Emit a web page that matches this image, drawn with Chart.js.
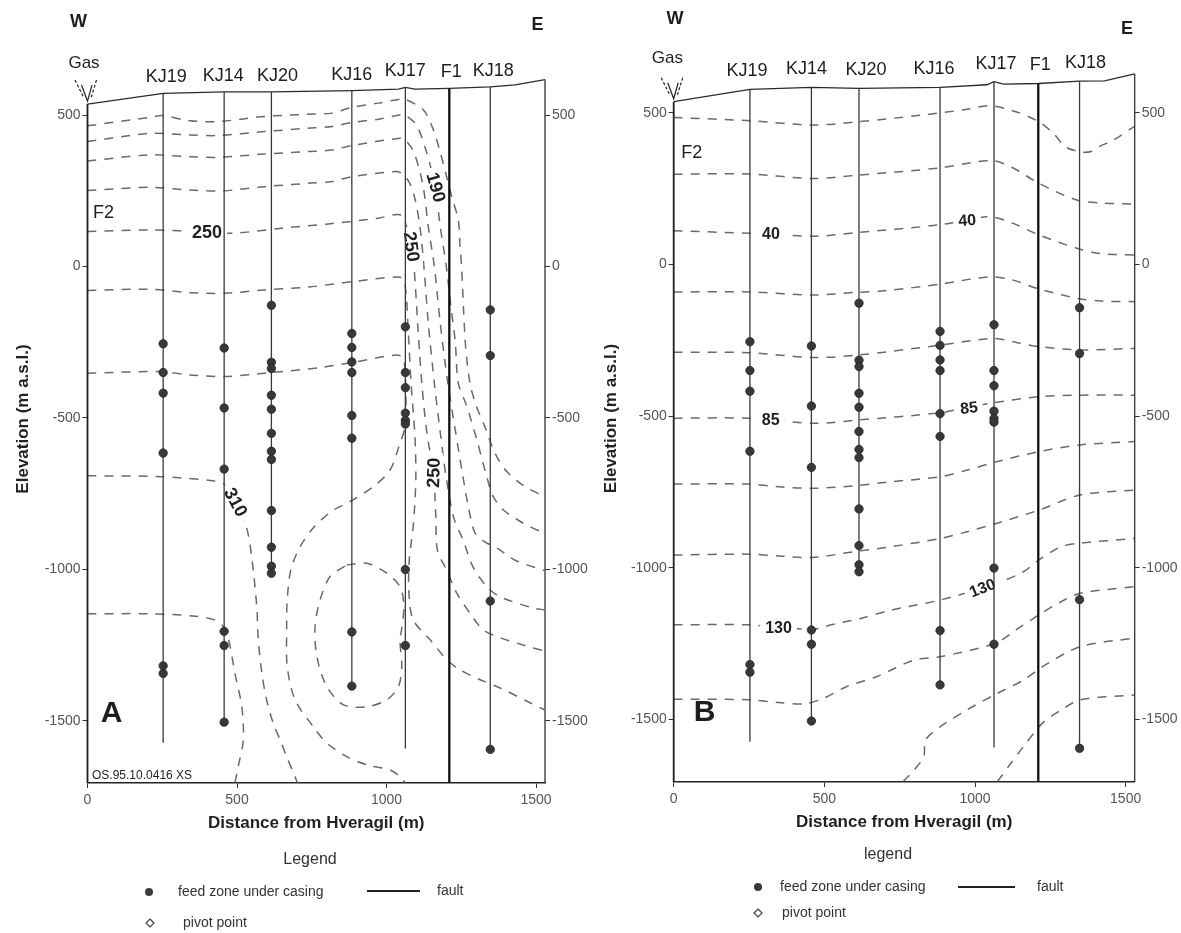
<!DOCTYPE html>
<html>
<head>
<meta charset="utf-8">
<title>Hveragil W-E sections</title>
<script src="https://cdn.jsdelivr.net/npm/chart.js@4.4.1/dist/chart.umd.min.js"></script>
<style>
  html, body { margin: 0; padding: 0; background: #fff; }
  #wrap { position: relative; width: 1181px; height: 933px; }
  canvas { position: absolute; top: 0; }
  #panelA { left: 0; }
  #panelB { left: 590px; }
</style>
</head>
<body>
<div id="wrap">
  <canvas id="panelA" width="590" height="933"></canvas>
  <canvas id="panelB" width="591" height="933"></canvas>
</div>
<script>
// wells along the profile: distance from Hveragil (m), elevation (m a.s.l.)
const wellNames = ['KJ19', 'KJ14', 'KJ20', 'KJ16', 'KJ17', 'KJ18'];
const wellDist = [253, 457, 615, 884, 1063, 1347];
const wellBottom = [-1573, -1505, -1014, -1386, -1592, -1595];
const wellTopA = [572, 577, 577, 581, 592, 594];
const wellTopB = [577, 583, 580, 583, 602, 604];

// feed zones under casing, per well
const feedKJ19 = [-255, -350, -418, -616, -1319, -1344];
const feedKJ14 = [-269, -467, -669, -1205, -1252, -1505];
const feedKJ20 = [-128, -316, -337, -425, -471, -551, -610, -637, -806, -927, -990, -1013];
const feedKJ16 = [-221, -267, -315, -350, -492, -567, -1207, -1386];
const feedKJ17 = [-199, -350, -400, -484, -508, -520, -1001, -1252];
const feedKJ18 = [-143, -294, -1105, -1595];
const feedZones = [feedKJ19, feedKJ14, feedKJ20, feedKJ16, feedKJ17, feedKJ18];

const faultName = 'F1';
const faultDist = 1210;
const faultTopA = 589;
const faultTopB = 596;

const groundDist = [0, 253, 457, 615, 884, 1040, 1063, 1095, 1210, 1347, 1430, 1530];
const groundElevA = [537, 572, 577, 577, 581, 586, 592, 586, 589, 594, 600, 618];
const groundElevB = [536, 577, 583, 580, 583, 592, 602, 594, 596, 604, 605, 628];

const distMax = 1530;
const xTicks = [0, 500, 1000, 1500];
const yTicks = [500, 0, -500, -1000, -1500];

// section A isolines, [distance, elevation]
const isoA1 = [[0,465],[209,493],[250,499],[340,482],[436,479],[591,496],[735,503],[818,507],[884,526],[973,540],[1045,553],[1062,553],[1123,518],[1157,451],[1179,380],[1201,297],[1218,231],[1240,154],[1246,66],[1251,0],[1258,-150],[1265,-270],[1279,-385],[1300,-460],[1329,-529],[1363,-617],[1402,-677],[1460,-725],[1528,-760]];
const isoA2 = [[0,413],[209,440],[340,435],[436,433],[591,446],[735,457],[818,463],[884,476],[973,487],[1045,501],[1062,500],[1100,468],[1130,390],[1150,320],[1165,250],[1180,130],[1200,0],[1215,-130],[1230,-250],[1240,-385],[1268,-460],[1302,-572],[1335,-694],[1357,-760],[1391,-804],[1458,-848],[1528,-881]];
const isoA3 = [[0,349],[209,369],[340,363],[436,361],[591,372],[735,380],[818,385],[884,400],[1045,424],[1060,420],[1088,385],[1110,320],[1125,250],[1140,130],[1160,0],[1180,-190],[1205,-385],[1230,-540],[1255,-690],[1275,-800],[1296,-880],[1330,-910],[1370,-930],[1430,-970],[1528,-1004]];
const isoA4 = [[0,251],[209,262],[340,253],[448,250],[591,264],[735,275],[818,281],[884,297],[1033,314],[1055,305],[1078,275],[1096,220],[1112,130],[1125,0],[1140,-190],[1160,-385],[1180,-550],[1200,-700],[1225,-830],[1256,-903],[1289,-992],[1336,-1058],[1380,-1091],[1490,-1128],[1528,-1134]];
const isoA5 = [[0,116],[209,121],[400,115],[484,110],[651,127],[806,141],[973,160],[1045,171],[1068,130],[1084,66],[1092,0],[1105,-200],[1118,-385],[1135,-550],[1157,-681],[1165,-830],[1170,-936],[1201,-1003],[1235,-1079],[1279,-1145],[1323,-1200],[1380,-1226],[1490,-1260],[1528,-1270]];
const isoA6 = [[0,-79],[209,-75],[340,-86],[460,-88],[591,-77],[735,-68],[884,-50],[1045,-35],[1062,-60],[1072,-200],[1082,-385],[1095,-560],[1098,-700],[1090,-850],[1076,-970],[1075,-1080],[1089,-1167],[1146,-1233],[1202,-1299],[1246,-1332],[1313,-1365],[1380,-1392],[1480,-1441],[1528,-1464]];
const isoA7 = [[0,-352],[245,-347],[340,-358],[460,-363],[615,-350],[782,-333],[884,-317],[1033,-292],[1056,-303],[1064,-385],[1062,-529],[1045,-583],[1012,-672],[956,-727],[878,-776],[820,-806],[759,-859],[711,-925],[680,-1002],[668,-1100],[666,-1200],[668,-1321],[694,-1431],[755,-1520],[800,-1574],[867,-1619],[934,-1646],[1012,-1663],[1045,-1685],[1063,-1706]];
const isoA8 = [[0,-691],[245,-694],[424,-708],[454,-716],[490,-771],[531,-859],[549,-958],[566,-1123],[571,-1233],[583,-1343],[599,-1431],[621,-1508],[644,-1563],[666,-1619],[694,-1685],[702,-1706]];
const isoA9 = [[0,-1147],[209,-1147],[352,-1154],[424,-1167],[454,-1189],[472,-1233],[493,-1343],[516,-1454],[521,-1564],[504,-1652],[493,-1706]];
const isoA10 = [[867,-986],[934,-980],[1001,-1013],[1045,-1057],[1058,-1120],[1051,-1195],[1045,-1233],[1051,-1321],[1040,-1387],[1001,-1431],[934,-1454],[856,-1448],[800,-1387],[767,-1288],[761,-1189],[778,-1101],[811,-1024],[867,-986]];

const isoTextA = ['250', '190', '250', '250', '310'];
const isoAtA = [[400,114],[1166,262],[1084,66],[1157,-681],[496,-778]];
const isoTiltA = [0, 74, 82, -88, 62];

// section B isolines
const isoB1 = [[0,484],[260,473],[461,459],[611,470],[824,492],[974,511],[1049,523],[1136,503],[1212,470],[1260,432],[1299,388],[1349,371],[1382,371],[1412,388],[1460,410],[1528,454]];
const isoB2 = [[0,297],[248,298],[461,283],[611,294],[885,318],[1055,342],[1130,316],[1210,268],[1338,212],[1420,202],[1528,199]];
const isoB3 = [[0,111],[260,102],[473,93],[611,105],[880,130],[974,146],[1051,157],[1127,135],[1210,98],[1338,53],[1420,35],[1528,31]];
const isoB4 = [[0,-91],[248,-91],[461,-101],[611,-92],[700,-87],[885,-65],[1051,-41],[1127,-52],[1205,-79],[1338,-112],[1420,-121],[1528,-123]];
const isoB5 = [[0,-290],[248,-291],[461,-307],[611,-299],[886,-266],[1061,-244],[1140,-258],[1212,-271],[1349,-282],[1528,-277]];
const isoB6 = [[0,-507],[248,-507],[473,-524],[611,-513],[886,-489],[974,-471],[1049,-458],[1212,-436],[1349,-431],[1528,-431]];
const isoB7 = [[0,-724],[248,-724],[348,-733],[461,-738],[611,-729],[724,-716],[886,-700],[974,-678],[1074,-650],[1212,-617],[1349,-595],[1528,-584]];
const isoB8 = [[0,-958],[248,-955],[348,-961],[461,-966],[598,-947],[724,-930],[886,-903],[974,-881],[1074,-853],[1212,-810],[1349,-760],[1528,-744]];
const isoB9 = [[0,-1188],[248,-1188],[461,-1203],[523,-1188],[623,-1166],[724,-1139],[886,-1106],[1024,-1067],[1074,-1051],[1161,-1013],[1212,-974],[1287,-930],[1349,-919],[1528,-903]];
const isoB10 = [[0,-1433],[248,-1435],[348,-1444],[436,-1448],[498,-1430],[573,-1392],[673,-1359],[798,-1304],[886,-1293],[1068,-1249],[1136,-1205],[1212,-1155],[1287,-1111],[1349,-1084],[1528,-1062]];
const isoB11 = [[761,-1705],[798,-1666],[830,-1622],[836,-1567],[886,-1523],[974,-1468],[1074,-1414],[1161,-1370],[1224,-1326],[1349,-1260],[1528,-1232]];
const isoB12 = [[1074,-1705],[1111,-1655],[1161,-1589],[1224,-1512],[1287,-1468],[1349,-1435],[1528,-1419]];

const isoTextB = ['40', '40', '85', '85', '130', '130'];
const isoAtB = [[323,100],[974,146],[322,-511],[980,-472],[348,-1196],[1024,-1066]];
const isoTiltB = [0, -4, 0, -6, 0, -22];

const FONT = '"Liberation Sans", Arial, Helvetica, sans-serif';
Chart.defaults.font.family = FONT;
Chart.defaults.color = '#444';

const panelA = {
  letter: 'A', stamp: 'OS.95.10.0416 XS', legendTitle: 'Legend',
  ground: groundElevA, wellTop: wellTopA, faultTop: faultTopA,
  isos: [isoA1, isoA2, isoA3, isoA4, isoA5, isoA6, isoA7, isoA8, isoA9, isoA10],
  isoText: isoTextA, isoAt: isoAtA, isoTilt: isoTiltA, isoFont: 18,
  yMin: -1706, yMax: 699, leftW: 87.5, rightW: 45, padTop: 55, padBottom: 99, titlePad: 13,
  nameDx: [3, -1, 6, 0, 0, 3], nameLift: 16,
  wPos: [-9, 22], ePos: [-7.5, 25], gasPos: [-3.5, 63], f2Pos: [16, 213], letterPos: [24, 714],
  legend: { title: [310, 860], dot: [149, 892], feed: [178, 892], seg: [367, 420, 891], fault: [437, 891], diamond: [150, 923], pivot: [183, 923] }
};

const panelB = {
  letter: 'B', stamp: '', legendTitle: 'legend',
  ground: groundElevB, wellTop: wellTopB, faultTop: faultTopB,
  isos: [isoB1, isoB2, isoB3, isoB4, isoB5, isoB6, isoB7, isoB8, isoB9, isoB10, isoB11, isoB12],
  isoText: isoTextB, isoAt: isoAtB, isoTilt: isoTiltB, isoFont: 16,
  yMin: -1706, yMax: 690, leftW: 83.7, rightW: 46.3, padTop: 55, padBottom: 100, titlePad: 11.3,
  nameDx: [-3, -5, 7, -6, 2, 6], nameLift: 18,
  wPos: [1.3, 19], ePos: [-7.7, 29], gasPos: [-6.4, 58], f2Pos: [18, 153], letterPos: [31, 713],
  legend: { title: [298, 855], dot: [168, 887], feed: [190, 887], seg: [368, 425, 887], fault: [447, 887], diamond: [168, 913], pivot: [192, 913] }
};

function toPoints(list) {
  return list.map(p => ({ x: p[0], y: p[1] }));
}

function makeOverlay(p) {
  return {
    id: 'overlay' + p.letter,
    // isoline values, knocked out of the dashed lines, drawn under the wells
    afterDatasetDraw(chart, args) {
      if (!chart.data.datasets[args.index].labelLayer) return;
      const ctx = chart.ctx, xs = chart.scales.x, ys = chart.scales.y;
      ctx.save();
      ctx.font = 'bold ' + p.isoFont + 'px ' + FONT;
      ctx.textAlign = 'center';
      ctx.textBaseline = 'middle';
      p.isoText.forEach((t, i) => {
        const w = ctx.measureText(t).width;
        ctx.save();
        ctx.translate(xs.getPixelForValue(p.isoAt[i][0]), ys.getPixelForValue(p.isoAt[i][1]));
        ctx.rotate(p.isoTilt[i] * Math.PI / 180);
        ctx.fillStyle = '#fff';
        ctx.fillRect(-w / 2 - 5, -p.isoFont * 0.5, w + 10, p.isoFont);
        ctx.fillStyle = '#1e1e1e';
        ctx.fillText(t, 0, 1);
        ctx.restore();
      });
      ctx.restore();
    },
    afterDraw(chart) {
      const ctx = chart.ctx, xs = chart.scales.x, ys = chart.scales.y;
      const left = xs.getPixelForValue(0), right = xs.getPixelForValue(distMax);
      const gy = ys.getPixelForValue(p.ground[0]);
      ctx.save();
      ctx.fillStyle = '#1e1e1e';
      ctx.textAlign = 'center';
      ctx.textBaseline = 'middle';

      // well and fault names over the collars
      ctx.font = '18px ' + FONT;
      wellNames.forEach((n, i) => {
        ctx.fillText(n, xs.getPixelForValue(wellDist[i]) + p.nameDx[i], ys.getPixelForValue(p.wellTop[i]) - p.nameLift);
      });
      ctx.fillText(faultName, xs.getPixelForValue(faultDist) + 2, ys.getPixelForValue(p.faultTop) - p.nameLift);

      ctx.font = 'bold 18px ' + FONT;
      ctx.fillText('W', left + p.wPos[0], p.wPos[1]);
      ctx.fillText('E', right + p.ePos[0], p.ePos[1]);

      ctx.font = '17px ' + FONT;
      ctx.fillText('Gas', left + p.gasPos[0], p.gasPos[1]);

      // gas vent sign
      ctx.strokeStyle = '#222';
      ctx.lineWidth = 1.2;
      ctx.setLineDash([3, 2]);
      ctx.beginPath();
      ctx.moveTo(left - 12.5, gy - 24); ctx.lineTo(left - 3.5, gy - 6);
      ctx.moveTo(left + 9, gy - 24); ctx.lineTo(left + 3.5, gy - 6);
      ctx.stroke();
      ctx.setLineDash([]);
      ctx.beginPath();
      ctx.moveTo(left - 6, gy - 19); ctx.lineTo(left, gy - 3); ctx.lineTo(left + 4.5, gy - 19);
      ctx.stroke();

      ctx.font = '18px ' + FONT;
      ctx.fillText('F2', left + p.f2Pos[0], p.f2Pos[1]);

      ctx.font = 'bold 30px ' + FONT;
      ctx.fillText(p.letter, left + p.letterPos[0], p.letterPos[1]);

      if (p.stamp) {
        ctx.font = '12px ' + FONT;
        ctx.textAlign = 'left';
        ctx.fillText(p.stamp, left + 4.5, 776);
      }

      // legend
      const lg = p.legend;
      ctx.fillStyle = '#333';
      ctx.textAlign = 'center';
      ctx.font = '16px ' + FONT;
      ctx.fillText(p.legendTitle, lg.title[0], lg.title[1]);
      ctx.textAlign = 'left';
      ctx.font = '14px ' + FONT;
      ctx.fillText('feed zone under casing', lg.feed[0], lg.feed[1]);
      ctx.fillText('fault', lg.fault[0], lg.fault[1]);
      ctx.fillText('pivot point', lg.pivot[0], lg.pivot[1]);
      ctx.beginPath();
      ctx.arc(lg.dot[0], lg.dot[1], 4, 0, Math.PI * 2);
      ctx.fillStyle = '#3a3a3a';
      ctx.fill();
      ctx.strokeStyle = '#222';
      ctx.lineWidth = 2;
      ctx.beginPath();
      ctx.moveTo(lg.seg[0], lg.seg[2]); ctx.lineTo(lg.seg[1], lg.seg[2]);
      ctx.stroke();
      ctx.lineWidth = 1.2;
      ctx.strokeStyle = '#444';
      ctx.beginPath();
      ctx.moveTo(lg.diamond[0], lg.diamond[1] - 4);
      ctx.lineTo(lg.diamond[0] + 4, lg.diamond[1]);
      ctx.lineTo(lg.diamond[0], lg.diamond[1] + 4);
      ctx.lineTo(lg.diamond[0] - 4, lg.diamond[1]);
      ctx.closePath();
      ctx.stroke();
      ctx.restore();
    }
  };
}

function buildChart(canvasId, p) {
  const line = (pts, extra) => Object.assign({ data: pts, showLine: true, pointRadius: 0, fill: false }, extra);
  const datasets = [];

  p.isos.forEach(iso => datasets.push(line(toPoints(iso), {
    borderColor: 'rgba(80,80,80,0.85)', borderWidth: 1.5, borderDash: [9, 8], tension: 0.3, order: 10
  })));
  datasets.push({ data: [], labelLayer: true, order: 5 });

  // ground surface and section frame
  datasets.push(line(groundDist.map((d, i) => ({ x: d, y: p.ground[i] })), { borderColor: '#2b2b2b', borderWidth: 1.3, order: 3, clip: false }));
  datasets.push(line([{ x: 0, y: p.ground[0] }, { x: 0, y: p.yMin }], { borderColor: '#1e1e1e', borderWidth: 1.8, order: 3, clip: false }));
  datasets.push(line([{ x: distMax, y: p.ground[p.ground.length - 1] }, { x: distMax, y: p.yMin }], { borderColor: '#333', borderWidth: 1.3, order: 3, clip: false }));

  // wells
  wellDist.forEach((d, i) => datasets.push(line([{ x: d, y: p.wellTop[i] }, { x: d, y: wellBottom[i] }], {
    borderColor: '#3a3a3a', borderWidth: 1.3, order: 2
  })));
  // fault
  datasets.push(line([{ x: faultDist, y: p.faultTop }, { x: faultDist, y: p.yMin }], { borderColor: '#111', borderWidth: 2.3, order: 2, clip: false }));

  // feed zones
  datasets.push({
    data: feedZones.flatMap((zones, i) => zones.map(v => ({ x: wellDist[i], y: v }))),
    pointRadius: 4.2, pointBackgroundColor: '#383838', pointBorderColor: '#262626', pointBorderWidth: 0.8, order: 1
  });

  const tickFont = { size: 14 };
  const yAxis = (pos, width) => ({
    type: 'linear', position: pos, min: p.yMin, max: p.yMax,
    afterBuildTicks: s => { s.ticks = yTicks.map(v => ({ value: v })); },
    afterFit: s => { s.width = width; },
    grid: { drawOnChartArea: false, drawTicks: true, tickLength: 5, color: '#333' },
    border: { display: false },
    ticks: { font: tickFont, color: '#555', padding: 2, autoSkip: false, callback: v => String(v) }
  });

  const yLeft = yAxis('left', p.leftW);
  yLeft.title = { display: true, text: 'Elevation (m a.s.l.)', color: '#222', font: { size: 17, weight: 'bold' }, padding: { top: p.titlePad, bottom: 0 } };

  return new Chart(document.getElementById(canvasId), {
    type: 'scatter',
    data: { datasets },
    options: {
      responsive: false,
      animation: false,
      layout: { padding: { left: 0, right: 0, top: p.padTop, bottom: p.padBottom } },
      plugins: { legend: { display: false }, tooltip: { enabled: false } },
      scales: {
        x: {
          type: 'linear', min: 0, max: distMax,
          afterBuildTicks: s => { s.ticks = xTicks.map(v => ({ value: v })); },
          afterFit: s => { s.height = 51; },
          grid: { drawOnChartArea: false, drawTicks: true, tickLength: 5, color: '#333' },
          border: { display: true, color: '#222', width: 1.6 },
          ticks: { font: tickFont, color: '#555', padding: 4, maxRotation: 0, autoSkip: false, callback: v => String(v) },
          title: { display: true, text: 'Distance from Hveragil (m)', color: '#222', font: { size: 17, weight: 'bold' }, padding: { top: 0, bottom: 0 } }
        },
        y: yLeft,
        y2: yAxis('right', p.rightW)
      }
    },
    plugins: [makeOverlay(p)]
  });
}

buildChart('panelA', panelA);
buildChart('panelB', panelB);
</script>
</body>
</html>
